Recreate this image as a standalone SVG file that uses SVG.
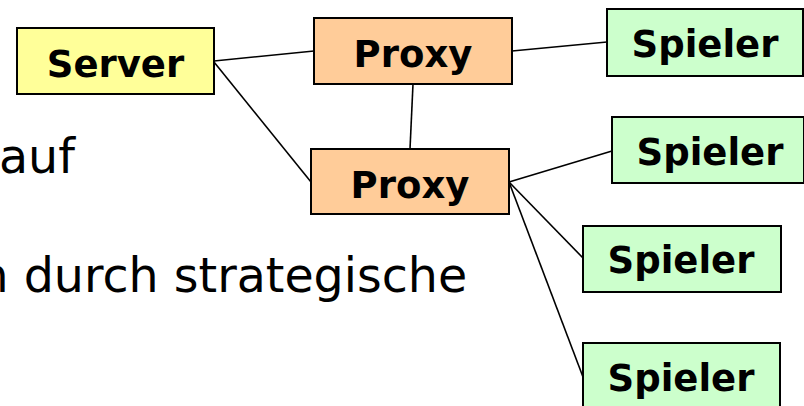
<svg xmlns="http://www.w3.org/2000/svg" width="804" height="406" viewBox="0 0 804 406">
<style>
  .box{stroke:#000;stroke-width:2}
  .server{fill:#FFFF99}
  .proxy{fill:#FFCC99}
  .spieler{fill:#CCFFCC}
  .lbl{font-family:"DejaVu Sans",Verdana,sans-serif;font-weight:bold;font-size:37px;text-anchor:middle;fill:#000}
  .body{font-family:"DejaVu Sans",Verdana,sans-serif;font-size:47.5px;fill:#000}
  .conn line{stroke:#000;stroke-width:1.6}
</style>
<rect width="804" height="406" fill="#fff"/>
<text class="body" x="-1" y="173">auf</text>
<text class="body" x="-21.5" y="292">n durch strategische</text>
<g id="connectors" class="conn">
  <line x1="214" y1="61" x2="314" y2="51"/>
  <line x1="214" y1="62" x2="311" y2="182"/>
  <line x1="413" y1="84" x2="410" y2="149"/>
  <line x1="512" y1="51" x2="607" y2="42"/>
  <line x1="509" y1="182" x2="612" y2="151"/>
  <line x1="509" y1="182" x2="583" y2="258"/>
  <line x1="509" y1="182" x2="583" y2="377"/>
</g>
<g id="server">
  <rect class="box server" x="17" y="28" width="197" height="66"/>
  <text class="lbl" x="115.5" y="77">Server</text>
</g>
<g id="proxy1">
  <rect class="box proxy" x="314" y="18" width="198" height="66"/>
  <text class="lbl" x="413" y="67">Proxy</text>
</g>
<g id="proxy2">
  <rect class="box proxy" x="311" y="149" width="198" height="65"/>
  <text class="lbl" x="410" y="198">Proxy</text>
</g>
<g id="spieler1">
  <rect class="box spieler" x="607" y="9" width="196" height="67"/>
  <text class="lbl" x="705" y="57">Spieler</text>
</g>
<g id="spieler2">
  <rect class="box spieler" x="612" y="117" width="192" height="66"/>
  <text class="lbl" x="710" y="165">Spieler</text>
</g>
<g id="spieler3">
  <rect class="box spieler" x="583" y="226" width="198" height="66"/>
  <text class="lbl" x="681" y="273">Spieler</text>
</g>
<g id="spieler4">
  <rect class="box spieler" x="583" y="343" width="197" height="66"/>
  <text class="lbl" x="681" y="391">Spieler</text>
</g>
</svg>
